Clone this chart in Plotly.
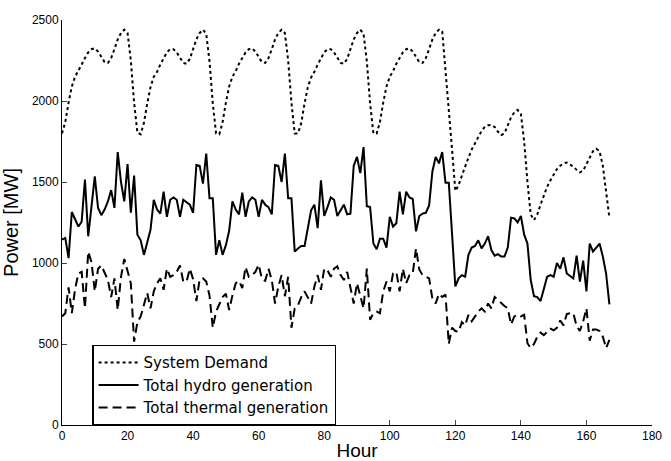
import plotly.graph_objects as go

hours = list(range(168))

demand = [
    # day 1
    1800, 1870, 1990, 2090, 2150, 2185, 2225, 2265, 2300, 2320, 2325, 2305,
    2270, 2240, 2235, 2265, 2320, 2380, 2420, 2440, 2420, 2250, 1990, 1805,
    # day 2
    1795, 1865, 1985, 2085, 2150, 2180, 2225, 2265, 2300, 2320, 2320, 2300,
    2265, 2235, 2230, 2260, 2320, 2380, 2420, 2440, 2415, 2245, 1985, 1800,
    # day 3
    1795, 1870, 1990, 2090, 2150, 2185, 2230, 2270, 2300, 2320, 2325, 2305,
    2270, 2240, 2235, 2265, 2320, 2380, 2420, 2440, 2420, 2250, 1990, 1800,
    # day 4
    1800, 1865, 1985, 2085, 2145, 2180, 2225, 2265, 2300, 2320, 2320, 2300,
    2265, 2235, 2230, 2260, 2320, 2380, 2420, 2440, 2415, 2245, 1985, 1800,
    # day 5
    1800, 1870, 1990, 2090, 2150, 2185, 2230, 2270, 2300, 2320, 2325, 2305,
    2270, 2240, 2235, 2265, 2320, 2380, 2420, 2440, 2430, 2200, 1950, 1700,
    # day 6
    1445, 1480, 1540, 1600, 1650, 1700, 1740, 1780, 1815, 1840, 1850, 1852,
    1840, 1810, 1790, 1800, 1850, 1900, 1930, 1945, 1920, 1750, 1500, 1300,
    # day 7
    1265, 1300, 1360, 1420, 1470, 1510, 1550, 1580, 1600, 1615, 1620, 1610,
    1595, 1575, 1560, 1570, 1610, 1650, 1690, 1705, 1690, 1600, 1450, 1280,
]

hydro = [
    1145, 1155, 1030, 1315, 1270, 1225, 1255, 1515, 1165, 1350, 1535, 1340,
    1295, 1330, 1380, 1450, 1340, 1685, 1500, 1380, 1610, 1310, 1540, 1175,
    1140, 1050, 1130, 1205, 1390, 1330, 1305, 1440, 1285, 1390, 1405, 1390,
    1285, 1390, 1375, 1360, 1310, 1605, 1600, 1490, 1675, 1400, 1400, 1050,
    1140, 1050, 1110, 1200, 1380, 1330, 1300, 1435, 1285, 1380, 1405, 1390,
    1285, 1390, 1360, 1345, 1300, 1605, 1600, 1500, 1675, 1400, 1400, 1070,
    1090, 1105, 1105, 1225, 1325, 1360, 1215, 1510, 1290, 1345, 1405, 1390,
    1290, 1325, 1360, 1300, 1305, 1600, 1655, 1555, 1715, 1350, 1345, 1120,
    1085, 1150, 1150, 1095, 1285, 1225, 1245, 1440, 1300, 1440, 1405, 1395,
    1195, 1290, 1305, 1310, 1355, 1565, 1655, 1615, 1685, 1495, 1495, 1180,
    855, 905, 925, 915, 1050, 1095, 1105, 1140, 1090, 1120, 1165, 1080,
    1045, 1055, 1040, 1040, 1095, 1280, 1275, 1250, 1290, 1175, 1120, 895,
    795, 790, 765, 840, 915, 925, 915, 1000, 965, 1035, 935, 920,
    905, 1045, 885, 1015, 825, 1120, 1070, 1095, 1120, 1040, 935, 745,
]

thermal = [
    670, 690, 850, 690, 840, 935, 945, 720, 1070, 1005, 825, 965,
    985, 945, 895, 790, 905, 710, 915, 1025, 955, 875, 515, 635,
    670, 750, 815, 720, 825, 875, 905, 835, 965, 915, 925, 945,
    985, 885, 885, 965, 900, 765, 900, 905, 885, 800, 600, 700,
    750, 790, 810, 710, 800, 875, 890, 845, 975, 915, 925, 945,
    990, 900, 890, 965, 895, 750, 855, 925, 795, 915, 600, 720,
    740, 790, 825, 790, 750, 855, 925, 835, 965, 955, 915, 965,
    980, 925, 895, 945, 845, 750, 875, 800, 720, 965, 650, 690,
    700, 690, 825, 885, 825, 935, 945, 825, 965, 875, 925, 935,
    1090, 960, 925, 915, 905, 780, 750, 810, 790, 805, 500, 600,
    580, 575, 635, 615, 680, 640, 670, 700, 720, 700, 750, 720,
    790, 770, 750, 735, 720, 620, 670, 680, 670, 680, 505, 475,
    500, 545, 570, 555, 575, 595, 585, 600, 645, 615, 685, 690,
    690, 610, 580, 640, 720, 520, 590, 590, 580, 545, 475, 525,
]

x_ticks = [0, 20, 40, 60, 80, 100, 120, 140, 160, 180]
y_ticks = [0, 500, 1000, 1500, 2000, 2500]

FONT = "Arial, 'Liberation Sans', Helvetica, sans-serif"
LEGEND_FONT = "'DejaVu Sans', Verdana, sans-serif"

fig = go.Figure()
fig.add_trace(go.Scatter(x=hours, y=demand, mode="lines", name="System Demand",
                         line=dict(color="black", width=2, dash="dot")))
fig.add_trace(go.Scatter(x=hours, y=hydro, mode="lines", name="Total hydro generation",
                         line=dict(color="black", width=2, dash="solid")))
fig.add_trace(go.Scatter(x=hours, y=thermal, mode="lines", name="Total thermal generation",
                         line=dict(color="black", width=2, dash="9px,5px")))

fig.update_layout(
    width=671, height=461,
    margin=dict(l=62, r=19, t=20, b=36, autoexpand=False),
    paper_bgcolor="white", plot_bgcolor="white",
    font=dict(family=FONT, color="black", size=12),
    showlegend=True,
    legend=dict(x=0.051, y=0.198, xanchor="left", yanchor="top",
                bgcolor="white", bordercolor="black", borderwidth=1.5,
                font=dict(size=15, family=LEGEND_FONT), tracegroupgap=0,
                itemwidth=40),
    xaxis=dict(range=[0, 180], tickvals=x_ticks, ticks="inside", ticklen=5,
               showline=True, linecolor="black", linewidth=1, mirror=False,
               showgrid=False, zeroline=False,
               tickfont=dict(size=12, family=FONT),
               title=dict(text="Hour", font=dict(size=19, family=FONT), standoff=2)),
    yaxis=dict(range=[0, 2500], tickvals=y_ticks, ticks="inside", ticklen=5,
               showline=True, linecolor="black", linewidth=1, mirror=False,
               showgrid=False, zeroline=False,
               tickfont=dict(size=12, family=FONT),
               title=dict(text="Power [MW]", font=dict(size=20, family=FONT), standoff=12)),
)

fig.write_html("out.html")
